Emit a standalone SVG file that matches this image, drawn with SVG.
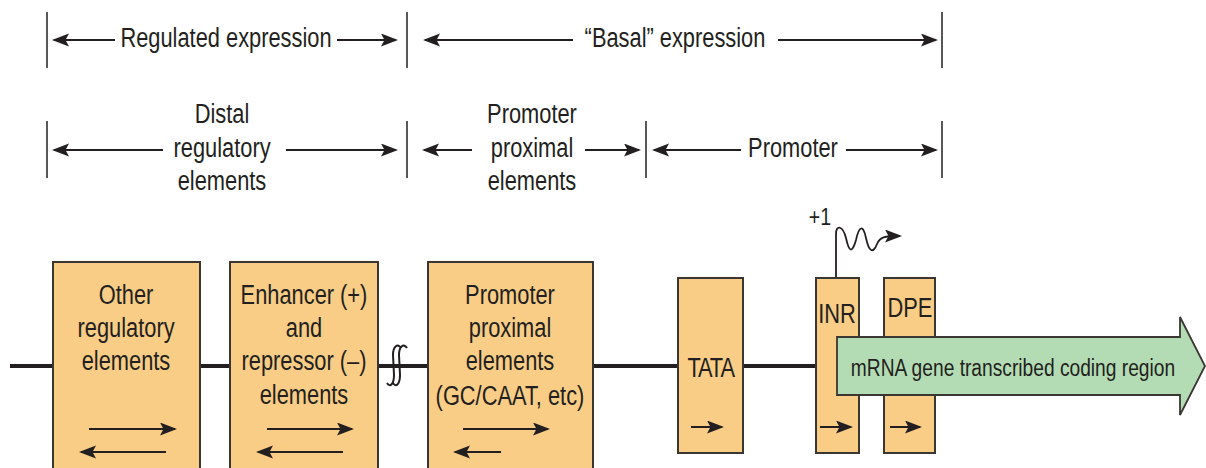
<svg xmlns="http://www.w3.org/2000/svg" width="1206" height="468" viewBox="0 0 1206 468">
<style>
.t{font-family:"Liberation Sans",Arial,Helvetica,sans-serif;font-size:28px;fill:#231f20;text-anchor:middle;transform-box:fill-box;transform-origin:center;transform:scaleX(0.78)}
.s{font-size:23px;transform:scaleX(0.835)}
.p{font-size:23px;transform:scaleX(0.85)}
.bar{stroke:#231f20;stroke-width:1.5;fill:none}
.dim{stroke:#231f20;stroke-width:1.8;fill:none;marker-end:url(#ah)}
.inb{stroke:#231f20;stroke-width:2;fill:none;marker-end:url(#ah)}
.box{fill:#f9cd85;stroke:#3a3632;stroke-width:2}
.dna{stroke:#231f20;stroke-width:4;fill:none}
</style>
<defs>
<marker id="ah" markerUnits="userSpaceOnUse" markerWidth="18" markerHeight="14" refX="15" refY="6.5" orient="auto" viewBox="0 0 18 14">
<path d="M0,0 L17,6.5 L0,13 L3.5,6.5 Z" fill="#231f20"/>
</marker>
</defs>
<rect width="1206" height="468" fill="#ffffff"/>

<g id="dimensions">
<line class="bar" x1="47" y1="12" x2="47" y2="68"/>
<line class="bar" x1="407" y1="12" x2="407" y2="68"/>
<line class="bar" x1="942" y1="12" x2="942" y2="68"/>
<line class="bar" x1="47" y1="121" x2="47" y2="178"/>
<line class="bar" x1="407" y1="121" x2="407" y2="178"/>
<line class="bar" x1="646" y1="121" x2="646" y2="178"/>
<line class="bar" x1="942" y1="121" x2="942" y2="178"/>
<line class="dim" x1="115" y1="40" x2="54" y2="40"/>
<line class="dim" x1="337" y1="40" x2="396" y2="40"/>
<line class="dim" x1="573" y1="40" x2="425" y2="40"/>
<line class="dim" x1="778" y1="40" x2="936" y2="40"/>
<line class="dim" x1="163" y1="150" x2="54" y2="150"/>
<line class="dim" x1="286" y1="150" x2="396" y2="150"/>
<line class="dim" x1="472" y1="150" x2="424" y2="150"/>
<line class="dim" x1="585" y1="150" x2="639" y2="150"/>
<line class="dim" x1="741" y1="150" x2="654" y2="150"/>
<line class="dim" x1="846" y1="150" x2="936" y2="150"/>
</g>

<g id="labels">
<text class="t" x="226" y="47">Regulated expression</text>
<text class="t" x="675" y="47">“Basal” expression</text>
<text class="t" x="222" y="123">Distal</text>
<text class="t" x="222" y="157">regulatory</text>
<text class="t" x="222" y="190">elements</text>
<text class="t" x="532" y="123">Promoter</text>
<text class="t" x="532" y="157">proximal</text>
<text class="t" x="532" y="190">elements</text>
<text class="t" x="793" y="157">Promoter</text>
</g>

<g id="connectors">
<line class="dna" x1="10" y1="366" x2="820" y2="366"/>
<path d="M836,278 L836,234 C836,224 843,226 846,238 C849,252 852,254 856,240 C859,226 863,224 866,238 C869,252 873,254 877,244 C880,237 884,236 900,236" stroke="#231f20" stroke-width="1.8" fill="none" marker-end="url(#ah)"/>
<path d="M401,348 C398,343 393,346 393,355 L394,375 C394,384 390,388 387,383 M407,348 C404,343 399,346 399,355 L400,375 C400,384 396,388 393,383" stroke="#231f20" stroke-width="2" fill="none"/>
</g>

<g id="other">
<rect class="box" x="53" y="262" width="147" height="212"/>
<text class="t" x="126" y="304">Other</text>
<text class="t" x="126" y="337">regulatory</text>
<text class="t" x="126" y="370">elements</text>
<line class="inb" x1="89" y1="429" x2="175" y2="429"/>
<line class="inb" x1="166" y1="452" x2="81" y2="452"/>
</g>

<g id="enhancer">
<rect class="box" x="230" y="262" width="148" height="212"/>
<text class="t" x="304" y="304">Enhancer (+)</text>
<text class="t" x="304" y="337">and</text>
<text class="t" x="304" y="370">repressor (–)</text>
<text class="t" x="304" y="404">elements</text>
<line class="inb" x1="267" y1="429" x2="352" y2="429"/>
<line class="inb" x1="343" y1="452" x2="258" y2="452"/>
</g>

<g id="proximal">
<rect class="box" x="428" y="262" width="165" height="212"/>
<text class="t" x="510" y="304">Promoter</text>
<text class="t" x="510" y="337">proximal</text>
<text class="t" x="510" y="370">elements</text>
<text class="t" x="510" y="405">(GC/CAAT, etc)</text>
<line class="inb" x1="463" y1="429" x2="548" y2="429"/>
<line class="inb" x1="501" y1="452" x2="455" y2="452"/>
</g>

<g id="tata">
<rect class="box" x="678" y="278" width="65" height="175"/>
<text class="t" x="710.5" y="377" style="letter-spacing:-1.5px">TATA</text>
<line class="inb" x1="691" y1="427" x2="722" y2="427"/>
</g>

<g id="inr">
<rect class="box" x="816" y="278" width="43" height="175"/>
<text class="t" x="837" y="323">INR</text>
<line class="inb" x1="820" y1="427" x2="851" y2="427"/>
</g>

<g id="dpe">
<rect class="box" x="884" y="278" width="51" height="175"/>
<text class="t" x="910" y="317">DPE</text>
<line class="inb" x1="890" y1="427" x2="920" y2="427"/>
</g>

<g id="start">
<text class="t p" x="820" y="225">+1</text>
</g>

<g id="coding">
<path d="M837,337 L1180,337 L1180,317 L1205,366 L1180,415 L1180,395 L837,395 Z" fill="#b3dcb4" stroke="#3a3632" stroke-width="1.8"/>
<text class="t s" x="1013" y="376">mRNA gene transcribed coding region</text>
</g>
</svg>
